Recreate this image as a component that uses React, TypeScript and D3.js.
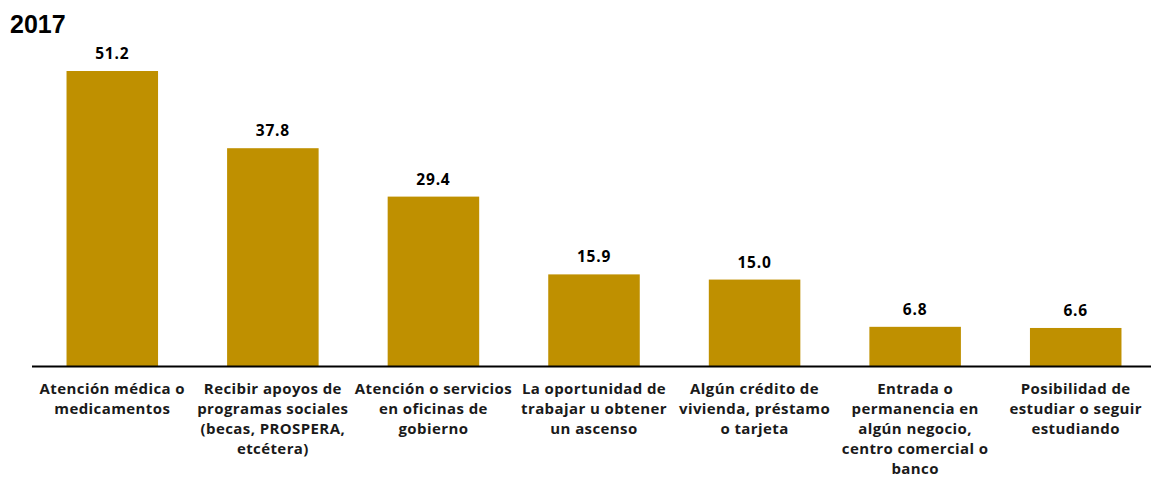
import React from "react";
import * as d3 from "d3";

// categories (already split into the lines shown under each bar)
const categories: string[][] = [
  ["Atención médica o", "medicamentos"],
  ["Recibir apoyos de", "programas sociales", "(becas, PROSPERA,", "etcétera)"],
  ["Atención o servicios", "en oficinas de", "gobierno"],
  ["La oportunidad de", "trabajar u obtener", "un ascenso"],
  ["Algún crédito de", "vivienda, préstamo", "o tarjeta"],
  ["Entrada o", "permanencia en", "algún negocio,", "centro comercial o", "banco"],
  ["Posibilidad de", "estudiar o seguir", "estudiando"],
];

const values: number[] = [51.2, 37.8, 29.4, 15.9, 15.0, 6.8, 6.6];

const yearLabel = "2017";

const width = 1151;
const height = 477;
const margin = { top: 71, right: -5, bottom: 111, left: 32 };
const barColor = "#BF9000";
const font = "'Open Sans', Lato, sans-serif";

const App = () => {
  const keys = categories.map((c) => c.join(" "));

  const xScale = d3
    .scaleBand()
    .domain(keys)
    .range([margin.left, width - margin.right])
    .paddingInner(0.43)
    .paddingOuter(0.215);

  const yScale = d3
    .scaleLinear()
    .domain([0, 51.2])
    .range([height - margin.bottom, margin.top]);

  const baseY = yScale(0);

  return (
    <div style={{ position: "absolute", left: 0, top: 0 }}>
      <svg width={width} height={height} style={{ display: "block", background: "#fff" }}>
        <text
          x={10}
          y={33}
          fontFamily="'Liberation Sans', Arial, sans-serif"
          fontWeight="bold"
          fontSize={25}
          fill="#000"
        >
          {yearLabel}
        </text>

        {/* bars */}
        {values.map((v, i) => (
          <rect
            key={keys[i]}
            x={xScale(keys[i])}
            y={yScale(v)}
            width={xScale.bandwidth()}
            height={baseY - yScale(v)}
            fill={barColor}
          />
        ))}

        {/* value labels */}
        {values.map((v, i) => (
          <text
            key={"v" + i}
            x={(xScale(keys[i]) as number) + xScale.bandwidth() / 2}
            y={yScale(v) - 12}
            textAnchor="middle"
            fontFamily={font}
            fontWeight="bold"
            fontSize={15.5}
            letterSpacing={0.8}
            fill="#000"
          >
            {d3.format(".1f")(v)}
          </text>
        ))}

        {/* axis line */}
        <line
          x1={margin.left}
          x2={width}
          y1={baseY + 0.5}
          y2={baseY + 0.5}
          stroke="#000"
          strokeWidth={2}
        />

        {/* category labels */}
        {categories.map((lines, i) => (
          <text
            key={"c" + i}
            x={(xScale(keys[i]) as number) + xScale.bandwidth() / 2}
            y={baseY + 28}
            textAnchor="middle"
            fontFamily={font}
            fontWeight="bold"
            fontSize={15}
            letterSpacing={0.4}
            fill="#1a1a1a"
          >
            {lines.map((l, j) => (
              <tspan key={j} x={(xScale(keys[i]) as number) + xScale.bandwidth() / 2} dy={j === 0 ? 0 : 20}>
                {l}
              </tspan>
            ))}
          </text>
        ))}
      </svg>
    </div>
  );
};

export default App;
